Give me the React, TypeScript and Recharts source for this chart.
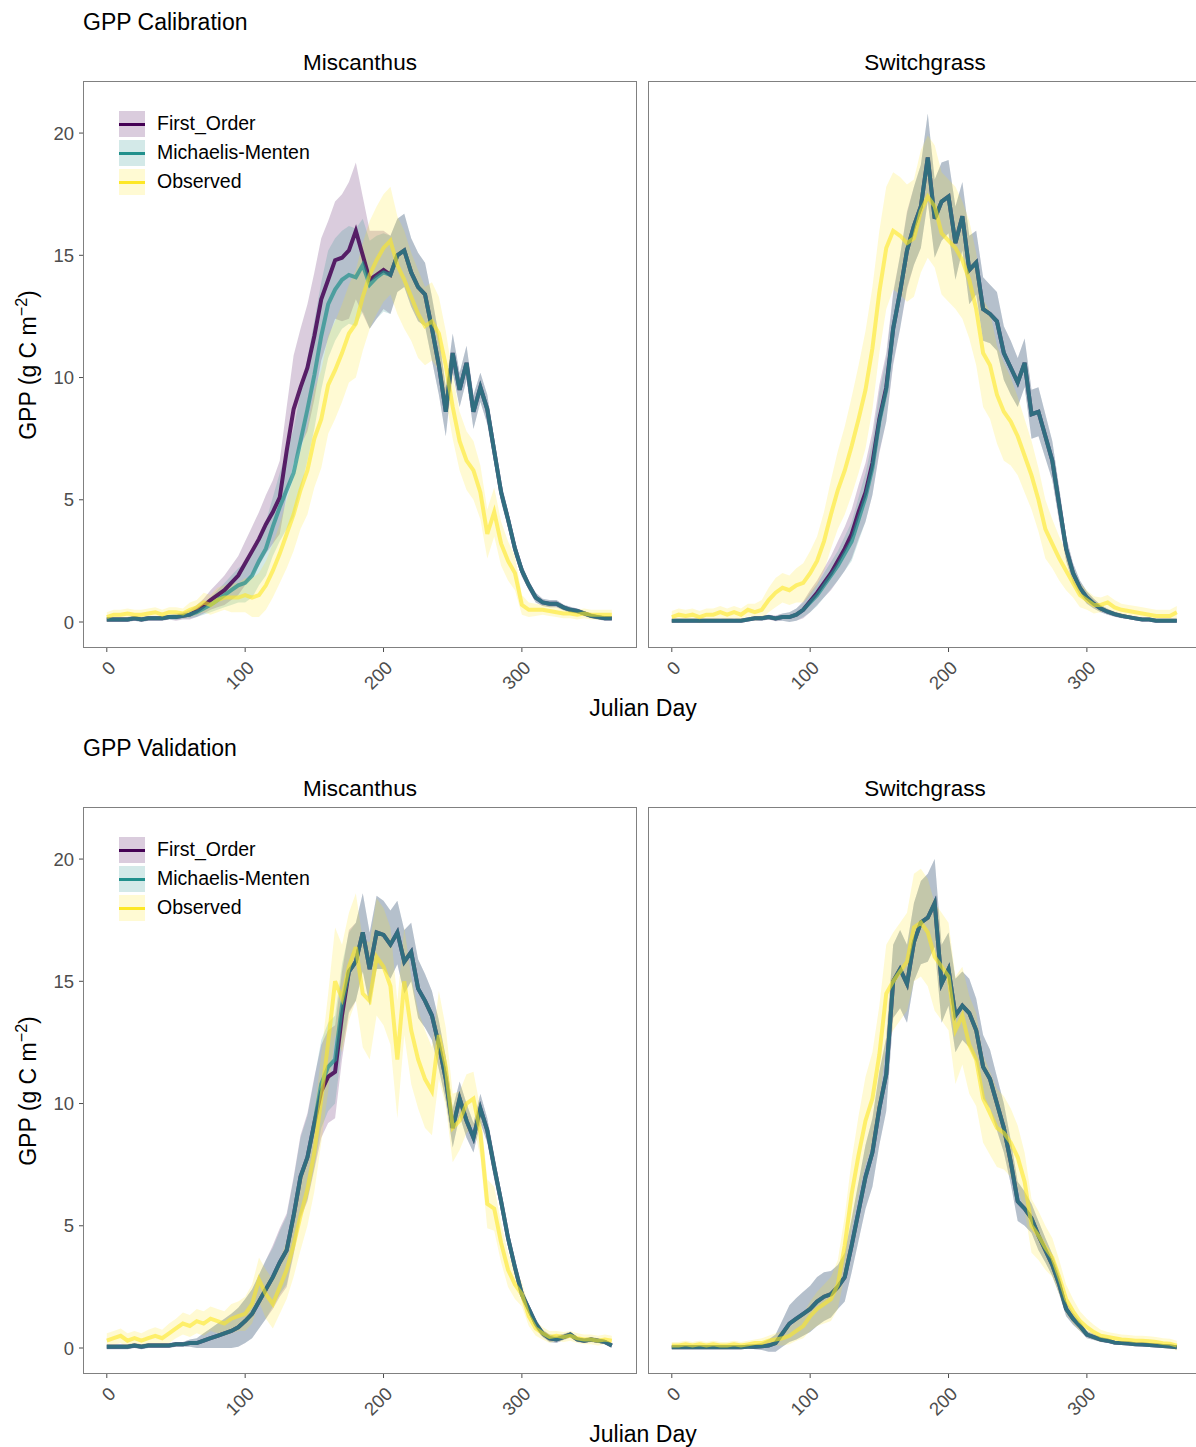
import React from 'react'
import { ComposedChart, Area, Line, XAxis, YAxis } from 'recharts'

const FONT = '"Liberation Sans", Arial, Helvetica, sans-serif'

const FO_COLOR = '#440154'
const MM_COLOR = '#21908C'
const OBS_COLOR = '#FDE725'

// Julian day, every 5 days
const DAYS = [
  0, 5, 10, 15, 20, 25, 30, 35, 40, 45, 50, 55,
  60, 65, 70, 75, 80, 85, 90, 95,
  100, 105, 110, 115, 120, 125, 130, 135, 140, 145, 150, 155, 160, 165, 170, 175, 180, 185, 190, 195,
  200, 205, 210, 215, 220, 225, 230, 235, 240, 245, 250, 255, 260, 265, 270, 275, 280, 285, 290, 295,
  300, 305, 310, 315, 320, 325, 330, 335, 340, 345, 350, 355, 360, 365,
]

const X_TICKS = [0, 100, 200, 300]
const Y_TICKS = [0, 5, 10, 15, 20]

const LEGEND_NAMES = ['First_Order', 'Michaelis-Menten', 'Observed']

// ---- GPP calibration, Miscanthus ----
const CAL_MISC_FO = [
  0.1, 0.1, 0.1, 0.1, 0.15, 0.1, 0.15, 0.15, 0.15, 0.2, 0.2, 0.25,
  0.3, 0.45, 0.65, 0.9, 1.1, 1.3, 1.6, 1.9,
  2.4, 2.9, 3.4, 4.0, 4.5, 5.1, 7.0, 8.7, 9.6, 10.4, 11.7, 13.2, 14.0, 14.8, 14.9, 15.2, 16.0, 15.0, 14.0, 14.2,
  14.4, 14.2, 15.0, 15.2, 14.3, 13.7, 13.4, 12.0, 10.5, 8.6, 11.0, 9.5, 10.6, 8.6, 9.6, 8.7, 7.0, 5.3, 4.2, 3.0,
  2.1, 1.5, 1.0, 0.8, 0.75, 0.75, 0.6, 0.5, 0.45, 0.35, 0.25, 0.2, 0.15, 0.15,
]
const CAL_MISC_FO_HW = [
  0.1, 0.1, 0.1, 0.1, 0.1, 0.1, 0.1, 0.1, 0.1, 0.1, 0.15, 0.15,
  0.2, 0.25, 0.3, 0.4, 0.5, 0.6, 0.7, 0.8,
  0.9, 1.0, 1.1, 1.2, 1.3, 1.5, 1.8, 2.2, 2.4, 2.6, 2.6, 2.5, 2.4, 2.4, 2.6, 2.8, 2.8, 2.4, 2.0, 1.8,
  1.6, 1.6, 1.5, 1.5, 1.4, 1.4, 1.3, 1.3, 1.2, 1.0, 0.8, 0.7, 0.7, 0.7, 0.6, 0.6, 0.5, 0.4, 0.35, 0.3,
  0.25, 0.2, 0.2, 0.15, 0.15, 0.15, 0.12, 0.12, 0.1, 0.1, 0.1, 0.1, 0.1, 0.1,
]
const CAL_MISC_MM = [
  0.1, 0.1, 0.1, 0.1, 0.15, 0.1, 0.15, 0.15, 0.15, 0.2, 0.2, 0.25,
  0.3, 0.4, 0.55, 0.7, 0.9, 1.1, 1.3, 1.5,
  1.6, 1.9, 2.5, 3.0, 3.9, 4.7, 5.4, 6.1, 7.4, 8.7, 10.1, 11.7, 13.0, 13.6, 14.0, 14.2, 14.1, 14.6, 13.8, 14.1,
  14.3, 14.2, 15.0, 15.2, 14.3, 13.7, 13.4, 12.0, 10.5, 8.6, 11.0, 9.5, 10.6, 8.6, 9.6, 8.7, 7.0, 5.3, 4.2, 3.0,
  2.1, 1.5, 1.0, 0.8, 0.75, 0.75, 0.6, 0.5, 0.45, 0.35, 0.25, 0.2, 0.15, 0.15,
]
const CAL_MISC_MM_HW = [
  0.1, 0.1, 0.1, 0.1, 0.1, 0.1, 0.1, 0.1, 0.1, 0.1, 0.12, 0.12,
  0.15, 0.2, 0.25, 0.3, 0.4, 0.5, 0.6, 0.7,
  0.8, 0.9, 1.0, 1.1, 1.2, 1.4, 1.6, 1.8, 2.0, 2.1, 2.2, 2.2, 2.2, 2.1, 2.0, 2.0, 2.0, 1.9, 1.8, 1.7,
  1.6, 1.6, 1.5, 1.5, 1.4, 1.4, 1.3, 1.3, 1.2, 1.0, 0.8, 0.7, 0.7, 0.7, 0.6, 0.6, 0.5, 0.4, 0.35, 0.3,
  0.25, 0.2, 0.2, 0.15, 0.15, 0.15, 0.12, 0.12, 0.1, 0.1, 0.1, 0.1, 0.1, 0.1,
]
const CAL_MISC_OBS = [
  0.2, 0.3, 0.3, 0.35, 0.3, 0.3, 0.35, 0.4, 0.3, 0.4, 0.4, 0.35,
  0.5, 0.6, 0.8, 0.7, 0.9, 1.0, 1.0, 1.0,
  1.1, 1.0, 1.1, 1.5, 2.1, 2.8, 3.6, 4.4, 5.4, 6.2, 7.5, 8.3, 9.7, 10.3, 11.0, 11.8, 12.2, 13.3, 14.2, 14.8,
  15.3, 15.6, 14.6, 14.0, 13.3, 12.6, 12.1, 12.3, 11.8, 10.5, 8.8, 7.4, 6.6, 6.2, 5.3, 3.6, 4.5, 3.2, 2.5, 2.0,
  0.7, 0.5, 0.5, 0.5, 0.45, 0.4, 0.35, 0.35, 0.3, 0.35, 0.3, 0.3, 0.3, 0.3,
]
const CAL_MISC_OBS_HW = [
  0.2, 0.2, 0.2, 0.2, 0.2, 0.2, 0.2, 0.2, 0.2, 0.2, 0.2, 0.2,
  0.3, 0.3, 0.4, 0.4, 0.5, 0.5, 0.6, 0.6,
  0.7, 0.8, 0.9, 1.0, 1.1, 1.2, 1.4, 1.5, 1.6, 1.8, 2.0, 2.0, 2.0, 2.0, 2.0, 2.0, 2.2, 2.2, 2.2, 2.2,
  2.2, 2.2, 2.0, 2.0, 1.8, 1.8, 1.6, 1.6, 1.5, 1.4, 1.3, 1.2, 1.2, 1.2, 1.1, 1.0, 1.0, 0.9, 0.8, 0.7,
  0.4, 0.3, 0.25, 0.2, 0.2, 0.2, 0.2, 0.2, 0.2, 0.2, 0.2, 0.2, 0.2, 0.2,
]

// ---- GPP calibration, Switchgrass ----
const CAL_SWITCH_FO = [
  0.05, 0.05, 0.05, 0.05, 0.05, 0.05, 0.05, 0.05, 0.05, 0.05, 0.05, 0.1,
  0.15, 0.15, 0.2, 0.15, 0.2, 0.2, 0.3, 0.5,
  0.85, 1.2, 1.6, 2.0, 2.5, 3.0, 3.6, 4.5, 5.3, 6.5, 8.3, 9.6, 12.0, 13.5, 15.2, 16.2, 17.0, 19.0, 16.5, 17.2,
  17.4, 15.5, 16.6, 14.4, 14.7, 12.8, 12.6, 12.3, 11.0, 10.4, 9.8, 10.6, 8.5, 8.6, 7.6, 6.6, 4.8, 3.0, 2.0, 1.4,
  1.0, 0.75, 0.55, 0.42, 0.32, 0.25, 0.2, 0.15, 0.1, 0.1, 0.05, 0.05, 0.05, 0.05,
]
const CAL_SWITCH_FO_HW = [
  0.05, 0.05, 0.05, 0.05, 0.05, 0.05, 0.05, 0.05, 0.05, 0.05, 0.05, 0.05,
  0.08, 0.1, 0.1, 0.12, 0.15, 0.2, 0.25, 0.35,
  0.45, 0.5, 0.6, 0.7, 0.8, 0.9, 1.0, 1.1, 1.2, 1.3, 1.4, 1.4, 1.5, 1.5, 1.6, 1.6, 1.7, 1.8, 1.6, 1.6,
  1.5, 1.5, 1.4, 1.4, 1.3, 1.3, 1.2, 1.2, 1.1, 1.1, 1.0, 1.0, 1.0, 1.0, 0.9, 0.8, 0.7, 0.5, 0.4, 0.3,
  0.25, 0.2, 0.15, 0.12, 0.1, 0.1, 0.08, 0.08, 0.06, 0.06, 0.05, 0.05, 0.05, 0.05,
]
const CAL_SWITCH_MM = [
  0.05, 0.05, 0.05, 0.05, 0.05, 0.05, 0.05, 0.05, 0.05, 0.05, 0.05, 0.1,
  0.15, 0.15, 0.2, 0.15, 0.2, 0.2, 0.3, 0.5,
  0.8, 1.1, 1.5, 1.9, 2.3, 2.8, 3.3, 4.2, 5.1, 6.3, 8.2, 9.5, 12.0, 13.5, 15.2, 16.2, 17.0, 19.0, 16.5, 17.2,
  17.4, 15.5, 16.6, 14.4, 14.7, 12.8, 12.6, 12.3, 11.0, 10.4, 9.8, 10.6, 8.5, 8.6, 7.6, 6.6, 4.8, 3.0, 2.0, 1.4,
  1.0, 0.75, 0.55, 0.42, 0.32, 0.25, 0.2, 0.15, 0.1, 0.1, 0.05, 0.05, 0.05, 0.05,
]
const CAL_SWITCH_MM_HW = [
  0.05, 0.05, 0.05, 0.05, 0.05, 0.05, 0.05, 0.05, 0.05, 0.05, 0.05, 0.05,
  0.08, 0.1, 0.1, 0.1, 0.15, 0.2, 0.25, 0.3,
  0.4, 0.45, 0.5, 0.55, 0.6, 0.7, 0.8, 0.9, 1.0, 1.1, 1.2, 1.3, 1.4, 1.5, 1.5, 1.6, 1.7, 1.8, 1.6, 1.6,
  1.5, 1.5, 1.4, 1.4, 1.3, 1.3, 1.2, 1.2, 1.1, 1.1, 1.0, 1.0, 1.0, 1.0, 0.9, 0.8, 0.7, 0.5, 0.4, 0.3,
  0.25, 0.2, 0.15, 0.12, 0.1, 0.1, 0.08, 0.08, 0.06, 0.06, 0.05, 0.05, 0.05, 0.05,
]
const CAL_SWITCH_OBS = [
  0.2, 0.3, 0.25, 0.3, 0.2, 0.3, 0.3, 0.4, 0.3, 0.4, 0.3, 0.5,
  0.4, 0.5, 0.9, 1.2, 1.4, 1.3, 1.5, 1.6,
  2.0, 2.5, 3.3, 4.4, 5.4, 6.2, 7.2, 8.3, 9.5, 11.2, 13.5, 15.3, 16.0, 15.8, 15.5, 15.7, 16.8, 17.4, 17.0, 15.9,
  15.6, 15.3, 14.8, 14.0, 12.8, 11.0, 10.5, 9.3, 8.6, 8.2, 7.6, 6.8, 6.0, 5.0, 3.8, 3.2, 2.6, 2.1, 1.6, 1.1,
  0.9, 0.7, 0.7, 0.8, 0.6, 0.5, 0.45, 0.4, 0.35, 0.3, 0.25, 0.25, 0.25, 0.4,
]
const CAL_SWITCH_OBS_HW = [
  0.25, 0.25, 0.25, 0.25, 0.25, 0.25, 0.25, 0.25, 0.25, 0.25, 0.25, 0.25,
  0.35, 0.4, 0.5, 0.6, 0.6, 0.6, 0.7, 0.8,
  0.9, 1.0, 1.2, 1.4, 1.6, 1.8, 2.0, 2.2, 2.4, 2.5, 2.5, 2.5, 2.4, 2.4, 2.4, 2.4, 2.5, 2.5, 2.5, 2.5,
  2.5, 2.5, 2.4, 2.4, 2.3, 2.2, 2.2, 2.0, 2.0, 1.8, 1.6, 1.5, 1.4, 1.3, 1.2, 1.0, 0.9, 0.8, 0.6, 0.5,
  0.4, 0.35, 0.3, 0.3, 0.3, 0.25, 0.25, 0.25, 0.25, 0.25, 0.25, 0.25, 0.25, 0.25,
]

// ---- GPP validation, Miscanthus ----
const VAL_MISC_FO = [
  0.05, 0.05, 0.05, 0.05, 0.1, 0.05, 0.1, 0.1, 0.1, 0.1, 0.15, 0.15,
  0.2, 0.2, 0.3, 0.4, 0.5, 0.6, 0.7, 0.85,
  1.1, 1.4, 1.9, 2.4, 2.9, 3.5, 4.0, 5.4, 7.0, 7.8, 9.2, 10.5, 11.1, 11.3, 13.6, 15.4, 15.8, 17.0, 15.5, 17.0,
  16.9, 16.5, 17.0, 15.8, 16.2, 14.7, 14.2, 13.6, 12.4, 11.0, 9.0, 10.2, 9.3, 8.6, 9.8, 8.9, 7.4, 6.0, 4.5, 3.3,
  2.2, 1.6, 1.0, 0.6, 0.4, 0.35, 0.45, 0.55, 0.35, 0.3, 0.35, 0.3, 0.25, 0.1,
]
const VAL_MISC_FO_HW = [
  0.1, 0.1, 0.1, 0.1, 0.1, 0.1, 0.1, 0.1, 0.1, 0.1, 0.1, 0.1,
  0.15, 0.2, 0.3, 0.4, 0.5, 0.6, 0.7, 0.8,
  0.9, 1.0, 1.1, 1.2, 1.3, 1.4, 1.5, 1.6, 1.7, 1.8, 1.9, 1.9, 1.9, 1.9, 1.8, 1.7, 1.6, 1.6, 1.5, 1.5,
  1.4, 1.4, 1.3, 1.3, 1.2, 1.2, 1.1, 1.0, 1.0, 0.9, 0.8, 0.7, 0.7, 0.6, 0.6, 0.5, 0.5, 0.4, 0.35, 0.3,
  0.25, 0.2, 0.2, 0.15, 0.15, 0.15, 0.12, 0.12, 0.1, 0.1, 0.1, 0.1, 0.1, 0.1,
]
const VAL_MISC_MM = [
  0.05, 0.05, 0.05, 0.05, 0.1, 0.05, 0.1, 0.1, 0.1, 0.1, 0.15, 0.15,
  0.2, 0.2, 0.3, 0.4, 0.5, 0.6, 0.7, 0.85,
  1.1, 1.4, 1.9, 2.4, 2.9, 3.5, 4.0, 5.4, 7.0, 7.8, 9.2, 10.8, 11.5, 11.8, 14.0, 15.4, 15.8, 17.0, 15.5, 17.0,
  16.9, 16.5, 17.0, 15.8, 16.2, 14.7, 14.2, 13.6, 12.4, 11.0, 9.0, 10.2, 9.3, 8.6, 9.8, 8.9, 7.4, 6.0, 4.5, 3.3,
  2.2, 1.6, 1.0, 0.6, 0.4, 0.35, 0.45, 0.55, 0.35, 0.3, 0.35, 0.3, 0.25, 0.1,
]
const VAL_MISC_MM_HW = [
  0.1, 0.1, 0.1, 0.1, 0.1, 0.1, 0.1, 0.1, 0.1, 0.1, 0.1, 0.1,
  0.15, 0.2, 0.3, 0.4, 0.5, 0.6, 0.7, 0.8,
  0.9, 1.0, 1.1, 1.2, 1.2, 1.3, 1.4, 1.5, 1.6, 1.7, 1.8, 1.8, 1.8, 1.8, 1.7, 1.6, 1.6, 1.6, 1.5, 1.5,
  1.4, 1.4, 1.3, 1.3, 1.2, 1.2, 1.1, 1.0, 1.0, 0.9, 0.8, 0.7, 0.7, 0.6, 0.6, 0.5, 0.5, 0.4, 0.35, 0.3,
  0.25, 0.2, 0.2, 0.15, 0.15, 0.15, 0.12, 0.12, 0.1, 0.1, 0.1, 0.1, 0.1, 0.1,
]
const VAL_MISC_OBS = [
  0.3, 0.4, 0.5, 0.3, 0.4, 0.3, 0.4, 0.5, 0.4, 0.6, 0.8, 1.0,
  0.9, 1.1, 1.0, 1.2, 1.1, 1.0, 1.2, 1.3,
  1.4, 1.8, 2.8, 2.2, 1.8, 2.5, 3.2, 4.2, 5.4, 6.5, 8.0, 10.2, 12.5, 15.0, 14.3, 15.6, 16.4, 14.5, 14.2, 16.0,
  15.6, 14.8, 11.8, 15.0, 13.0, 11.8, 11.0, 10.5, 12.8, 11.5, 9.0, 9.3, 10.0, 10.2, 8.8, 5.9, 5.7, 4.3, 3.2, 2.6,
  2.2, 1.3, 0.8, 0.6, 0.45, 0.5, 0.45, 0.5, 0.4, 0.35, 0.35, 0.3, 0.35, 0.3,
]
const VAL_MISC_OBS_HW = [
  0.3, 0.3, 0.3, 0.3, 0.3, 0.3, 0.35, 0.35, 0.35, 0.4, 0.4, 0.45,
  0.45, 0.5, 0.5, 0.5, 0.5, 0.5, 0.6, 0.6,
  0.7, 0.8, 0.9, 1.0, 1.0, 1.1, 1.2, 1.3, 1.4, 1.5, 1.6, 1.8, 2.0, 2.2, 2.2, 2.2, 2.2, 2.2, 2.4, 2.4,
  2.4, 2.4, 2.4, 2.2, 2.2, 2.0, 2.0, 1.8, 1.8, 1.6, 1.4, 1.2, 1.2, 1.1, 1.0, 1.0, 0.9, 0.8, 0.7, 0.6,
  0.5, 0.4, 0.3, 0.25, 0.25, 0.2, 0.2, 0.2, 0.2, 0.2, 0.2, 0.2, 0.2, 0.2,
]

// ---- GPP validation, Switchgrass ----
const VAL_SWITCH_FO = [
  0.03, 0.03, 0.03, 0.03, 0.03, 0.03, 0.03, 0.03, 0.03, 0.03, 0.03, 0.05,
  0.05, 0.07, 0.1, 0.2, 0.6, 1.0, 1.2, 1.4,
  1.6, 1.9, 2.1, 2.2, 2.5, 2.9, 4.2, 5.6, 7.0, 8.0, 9.8, 11.2, 15.0, 15.5, 14.9, 16.6, 17.4, 17.6, 18.2, 14.9,
  15.5, 13.6, 14.0, 13.7, 13.0, 11.5, 11.0, 10.0, 9.0, 7.6, 6.0, 5.7, 5.3, 4.6, 4.0, 3.4, 2.6, 1.6, 1.2, 0.9,
  0.55, 0.45, 0.35, 0.3, 0.22, 0.2, 0.18, 0.15, 0.14, 0.12, 0.1, 0.08, 0.06, 0.03,
]
const VAL_SWITCH_FO_HW = [
  0.05, 0.05, 0.05, 0.05, 0.05, 0.05, 0.05, 0.05, 0.05, 0.05, 0.05, 0.05,
  0.1, 0.15, 0.25, 0.35, 0.55, 0.75, 0.85, 0.9,
  0.95, 1.0, 1.0, 0.95, 0.9, 1.0, 1.1, 1.2, 1.3, 1.4, 1.5, 1.5, 1.5, 1.6, 1.6, 1.6, 1.7, 1.8, 1.8, 1.6,
  1.5, 1.5, 1.4, 1.4, 1.3, 1.3, 1.2, 1.1, 1.0, 0.9, 0.8, 0.7, 0.6, 0.6, 0.5, 0.45, 0.4, 0.3, 0.25, 0.2,
  0.15, 0.12, 0.1, 0.1, 0.08, 0.08, 0.06, 0.06, 0.05, 0.05, 0.05, 0.05, 0.05, 0.05,
]
const VAL_SWITCH_MM = [
  0.03, 0.03, 0.03, 0.03, 0.03, 0.03, 0.03, 0.03, 0.03, 0.03, 0.03, 0.05,
  0.05, 0.07, 0.1, 0.2, 0.6, 1.0, 1.2, 1.4,
  1.6, 1.9, 2.1, 2.2, 2.5, 2.9, 4.2, 5.6, 7.0, 8.0, 9.8, 11.2, 15.0, 15.5, 14.9, 16.6, 17.4, 17.6, 18.2, 14.9,
  15.5, 13.6, 14.0, 13.7, 13.0, 11.5, 11.0, 10.0, 9.0, 7.6, 6.0, 5.7, 5.3, 4.6, 4.0, 3.4, 2.6, 1.6, 1.2, 0.9,
  0.55, 0.45, 0.35, 0.3, 0.22, 0.2, 0.18, 0.15, 0.14, 0.12, 0.1, 0.08, 0.06, 0.03,
]
const VAL_SWITCH_MM_HW = [
  0.05, 0.05, 0.05, 0.05, 0.05, 0.05, 0.05, 0.05, 0.05, 0.05, 0.05, 0.05,
  0.1, 0.15, 0.25, 0.35, 0.55, 0.75, 0.85, 0.9,
  0.95, 1.0, 1.0, 0.95, 0.9, 1.0, 1.1, 1.2, 1.3, 1.4, 1.5, 1.5, 1.5, 1.6, 1.6, 1.6, 1.7, 1.8, 1.8, 1.6,
  1.5, 1.5, 1.4, 1.4, 1.3, 1.3, 1.2, 1.1, 1.0, 0.9, 0.8, 0.7, 0.6, 0.6, 0.5, 0.45, 0.4, 0.3, 0.25, 0.2,
  0.15, 0.12, 0.1, 0.1, 0.08, 0.08, 0.06, 0.06, 0.05, 0.05, 0.05, 0.05, 0.05, 0.05,
]
const VAL_SWITCH_OBS = [
  0.1, 0.1, 0.15, 0.1, 0.15, 0.1, 0.15, 0.1, 0.1, 0.15, 0.1, 0.15,
  0.2, 0.2, 0.3, 0.35, 0.4, 0.5, 0.7, 0.9,
  1.3, 1.6, 1.8, 2.0, 2.6, 4.2, 6.3, 7.9, 9.3, 10.2, 12.0, 14.5, 15.0, 15.4, 15.8, 17.2, 17.4, 17.0, 16.0, 15.6,
  15.2, 13.0, 13.6, 12.4, 11.8, 10.2, 9.6, 9.0, 8.8, 8.4, 7.8, 6.8, 5.0, 4.6, 4.1, 3.7, 2.9, 2.0, 1.5, 1.1,
  0.85, 0.65, 0.5, 0.45, 0.4, 0.35, 0.33, 0.3, 0.3, 0.28, 0.25, 0.2, 0.18, 0.1,
]
const VAL_SWITCH_OBS_HW = [
  0.15, 0.15, 0.15, 0.15, 0.15, 0.15, 0.15, 0.15, 0.15, 0.15, 0.15, 0.15,
  0.15, 0.2, 0.2, 0.25, 0.3, 0.35, 0.4, 0.5,
  0.6, 0.7, 0.8, 0.9, 1.0, 1.2, 1.4, 1.6, 1.8, 1.9, 2.0, 2.0, 2.0, 2.0, 2.0, 2.2, 2.2, 2.2, 2.2, 2.2,
  2.2, 2.2, 2.0, 2.0, 1.9, 1.8, 1.7, 1.6, 1.5, 1.4, 1.3, 1.2, 1.1, 1.0, 0.9, 0.8, 0.7, 0.6, 0.5, 0.4,
  0.35, 0.3, 0.25, 0.2, 0.2, 0.2, 0.2, 0.2, 0.2, 0.2, 0.2, 0.2, 0.2, 0.2,
]

// plot geometry (pixels)
const PLOT_W = 554
const PLOT_H = 567
const X_DOMAIN: [number, number] = [-17.2, 383.2]
const Y_DOMAIN: [number, number] = [-1.063, 22.13]

type Series = {
  fo: number[]
  foHw: number[]
  mm: number[]
  mmHw: number[]
  obs: number[]
  obsHw: number[]
}

const band = (v: number[], hw: number[], i: number) => [v[i] - hw[i], v[i] + hw[i]]

function toRows(s: Series) {
  return DAYS.map((day, i) => ({
    day,
    fo: s.fo[i],
    mm: s.mm[i],
    obs: s.obs[i],
    foBand: band(s.fo, s.foHw, i),
    mmBand: band(s.mm, s.mmHw, i),
    obsBand: band(s.obs, s.obsHw, i),
  }))
}

const calMisc = toRows({
  fo: CAL_MISC_FO, foHw: CAL_MISC_FO_HW, mm: CAL_MISC_MM, mmHw: CAL_MISC_MM_HW, obs: CAL_MISC_OBS, obsHw: CAL_MISC_OBS_HW,
})
const calSwitch = toRows({
  fo: CAL_SWITCH_FO, foHw: CAL_SWITCH_FO_HW, mm: CAL_SWITCH_MM, mmHw: CAL_SWITCH_MM_HW, obs: CAL_SWITCH_OBS, obsHw: CAL_SWITCH_OBS_HW,
})
const valMisc = toRows({
  fo: VAL_MISC_FO, foHw: VAL_MISC_FO_HW, mm: VAL_MISC_MM, mmHw: VAL_MISC_MM_HW, obs: VAL_MISC_OBS, obsHw: VAL_MISC_OBS_HW,
})
const valSwitch = toRows({
  fo: VAL_SWITCH_FO, foHw: VAL_SWITCH_FO_HW, mm: VAL_SWITCH_MM, mmHw: VAL_SWITCH_MM_HW, obs: VAL_SWITCH_OBS, obsHw: VAL_SWITCH_OBS_HW,
})

// x tick labels rotated 45 degrees, right end at the tick
function DayTick(props: any) {
  const { x, y, payload } = props
  const ax = x + 10
  const ay = y + 15
  return (
    <text x={ax} y={ay} transform={`rotate(-45 ${ax} ${ay})`} textAnchor="end" fontSize={18.5} fill="#4d4d4d" fontFamily={FONT}>
      {payload.value}
    </text>
  )
}

function Facet({ left, top, rows, showY }: { left: number; top: number; rows: any[]; showY: boolean }) {
  const yW = showY ? 60 : 0
  return (
    <>
      <div style={{ position: 'absolute', left: left - yW, top }}>
        <ComposedChart width={yW + PLOT_W} height={PLOT_H + 60} data={rows} margin={{ top: 0, right: 0, bottom: 0, left: 0 }}>
          <XAxis
            dataKey="day"
            type="number"
            domain={X_DOMAIN}
            ticks={X_TICKS}
            interval={0}
            allowDataOverflow
            axisLine={false}
            tickSize={4}
            tickLine={{ stroke: '#4d4d4d' }}
            height={60}
            tick={(p: any) => <DayTick {...p} />}
          />
          <YAxis
            type="number"
            domain={Y_DOMAIN}
            ticks={Y_TICKS}
            interval={0}
            allowDataOverflow
            hide={!showY}
            width={yW}
            axisLine={false}
            tickSize={4}
            tickMargin={5}
            tickLine={{ stroke: '#4d4d4d' }}
            tick={{ fill: '#4d4d4d', fontSize: 18.5, fontFamily: FONT }}
          />
          <Area type="linear" dataKey="foBand" stroke="none" fill={FO_COLOR} fillOpacity={0.2} isAnimationActive={false} />
          <Area type="linear" dataKey="mmBand" stroke="none" fill={MM_COLOR} fillOpacity={0.2} isAnimationActive={false} />
          <Area type="linear" dataKey="obsBand" stroke="none" fill={OBS_COLOR} fillOpacity={0.2} isAnimationActive={false} />
          <Line type="linear" dataKey="fo" stroke={FO_COLOR} strokeOpacity={0.85} strokeWidth={4} dot={false} isAnimationActive={false} />
          <Line type="linear" dataKey="mm" stroke={MM_COLOR} strokeOpacity={0.7} strokeWidth={4} dot={false} isAnimationActive={false} />
          <Line type="linear" dataKey="obs" stroke={OBS_COLOR} strokeOpacity={0.6} strokeWidth={4} dot={false} isAnimationActive={false} />
        </ComposedChart>
      </div>
      <div
        style={{
          position: 'absolute',
          left,
          top,
          width: PLOT_W,
          height: PLOT_H,
          border: '1.3px solid #808080',
          boxSizing: 'border-box',
          pointerEvents: 'none',
        }}
      />
    </>
  )
}

const KEY_COLORS = [FO_COLOR, MM_COLOR, OBS_COLOR]

function KeyLegend({ left, top }: { left: number; top: number }) {
  return (
    <>
      {LEGEND_NAMES.map((name, i) => {
        const cy = top + 43 + i * 29
        return (
          <React.Fragment key={name}>
            <div style={{ position: 'absolute', left: left + 36, top: cy - 13, width: 26, height: 26 }}>
              <div style={{ position: 'absolute', inset: 0, background: KEY_COLORS[i], opacity: 0.2 }} />
              <div style={{ position: 'absolute', left: 0, top: 11.5, width: 26, height: 3.5, background: KEY_COLORS[i] }} />
            </div>
            <div style={{ position: 'absolute', left: left + 74, top: cy, transform: 'translateY(-50%)', fontSize: 19.5, lineHeight: 1, color: '#000', whiteSpace: 'nowrap' }}>
              {name}
            </div>
          </React.Fragment>
        )
      })}
    </>
  )
}

function Text({ x, y, size, children, align = 'center' }: { x: number; y: number; size: number; children: React.ReactNode; align?: 'center' | 'left' }) {
  return (
    <div
      style={{
        position: 'absolute',
        left: x,
        top: y,
        transform: align === 'center' ? 'translate(-50%, -50%)' : 'translateY(-50%)',
        fontSize: size,
        lineHeight: 1,
        color: '#000',
        whiteSpace: 'nowrap',
      }}
    >
      {children}
    </div>
  )
}

function YTitle({ x, y }: { x: number; y: number }) {
  return (
    <div
      style={{
        position: 'absolute',
        left: x,
        top: y,
        transform: 'translate(-50%, -50%) rotate(-90deg)',
        fontSize: 23,
        lineHeight: 1,
        color: '#000',
        whiteSpace: 'nowrap',
      }}
    >
      GPP (g C m<sup style={{ fontSize: '0.7em', verticalAlign: '0.55em', lineHeight: 0 }}>−2</sup>)
    </div>
  )
}

function Block({ top, title, rowsMisc, rowsSwitch }: { top: number; title: string; rowsMisc: any[]; rowsSwitch: any[] }) {
  const plotTop = top + 81
  return (
    <>
      <Text x={83} y={top + 22} size={23} align="left">{title}</Text>
      <Text x={360} y={top + 63} size={22.5}>Miscanthus</Text>
      <Text x={925} y={top + 63} size={22.5}>Switchgrass</Text>
      <Facet left={83} top={plotTop} rows={rowsMisc} showY />
      <Facet left={648} top={plotTop} rows={rowsSwitch} showY={false} />
      <KeyLegend left={83} top={plotTop} />
      <YTitle x={28} y={plotTop + PLOT_H / 2} />
      <Text x={643} y={top + 708} size={23}>Julian Day</Text>
    </>
  )
}

export default function App() {
  return (
    <div
      style={{
        position: 'absolute',
        left: 0,
        top: 0,
        width: 1196,
        height: 1447,
        overflow: 'hidden',
        background: '#fff',
        fontFamily: FONT,
      }}
    >
      <Block top={0} title="GPP Calibration" rowsMisc={calMisc} rowsSwitch={calSwitch} />
      <Block top={726} title="GPP Validation" rowsMisc={valMisc} rowsSwitch={valSwitch} />
    </div>
  )
}
